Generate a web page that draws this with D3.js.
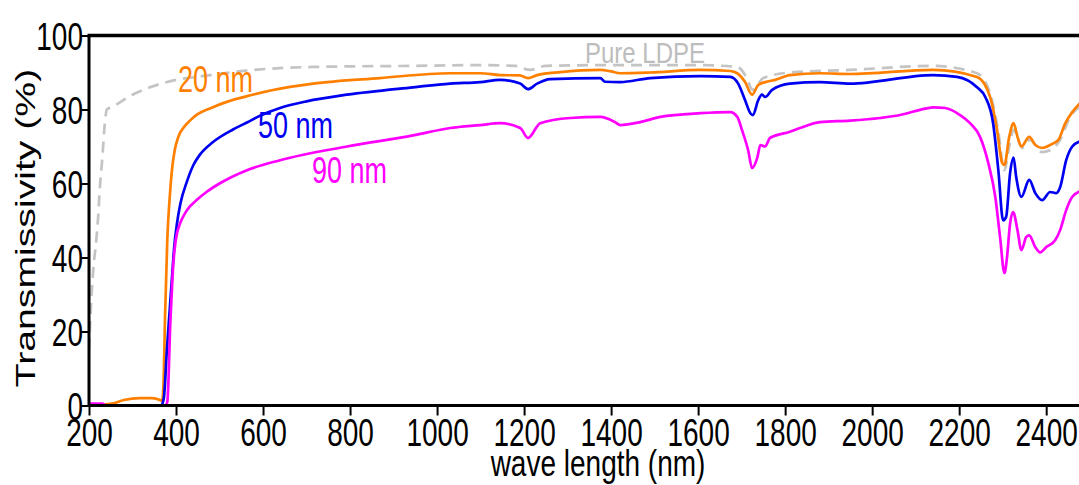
<!DOCTYPE html>
<html>
<head>
<meta charset="utf-8">
<script src="https://cdn.jsdelivr.net/npm/d3@7"></script>
<style>
  body { margin: 0; background: #fff; }
  text { font-family: "Liberation Sans", Arial, sans-serif; }
</style>
</head>
<body>
<div id="graphLine"></div>
<script>
// tick labels
var xTicks = [200, 400, 600, 800, 1000, 1200, 1400, 1600, 1800, 2000, 2200, 2400];
var yTicks = [0, 20, 40, 60, 80, 100];

// Pure LDPE (dashed)
var wlPure = [200, 205, 210, 217, 221, 225, 230, 237, 241, 255, 300, 340, 400, 460, 560, 715, 945, 1100, 1180, 1214, 1250, 1400, 1600, 1690, 1712, 1725, 1738, 1750, 1812, 1950, 2140, 2241, 2271, 2290, 2304, 2315, 2325, 2345, 2363, 2390, 2409, 2432, 2455, 2480];
var tPure = [15, 28, 37, 45, 51, 59, 66, 77, 80, 80.8, 84, 86, 88, 89, 90.5, 91.5, 91.8, 92, 91.8, 90.7, 91.8, 92, 92, 91.5, 88.5, 85.3, 87, 88.5, 90, 90.7, 91.8, 89.8, 84.4, 74, 63.6, 70, 74.5, 69.6, 71.8, 68.5, 69, 71.8, 78, 81];

// 20 nm
var wl20 = [200, 253, 280, 317, 345, 363, 368, 371, 375, 380, 386, 391, 397, 405, 420, 432, 448, 478, 520, 563, 620, 715, 869, 1030, 1099, 1145, 1190, 1209, 1230, 1283, 1375, 1400, 1421, 1490, 1605, 1674, 1690, 1708, 1724, 1738, 1754, 1777, 1811, 1880, 1949, 2140, 2241, 2271, 2287, 2299, 2304, 2315, 2325, 2334, 2343, 2361, 2375, 2391, 2409, 2428, 2444, 2460, 2480];
var t20 = [0, 0.5, 1.5, 2, 2, 1.5, 1.2, 5, 25, 45, 57, 64, 69, 72.5, 75.5, 77, 78.6, 80.3, 82.2, 83.6, 85.2, 87, 88.5, 89.8, 89.8, 89.3, 89.2, 88.5, 89.3, 90.1, 90.7, 90.3, 89.8, 90, 90.7, 90.4, 89.8, 87.4, 84, 86.6, 87.4, 88, 89.3, 89.8, 89.6, 90.7, 88.8, 83.4, 74.5, 65.5, 65, 72.6, 76.3, 72.6, 70, 72.6, 70.4, 69.6, 70.4, 71.8, 76.3, 79.3, 82];

// 50 nm
var wl50 = [200, 366, 372, 379, 385, 391, 396, 402, 410, 425, 440, 455, 485, 531, 563, 593, 639, 700, 793, 945, 1030, 1099, 1145, 1191, 1209, 1230, 1260, 1375, 1386, 1421, 1490, 1605, 1674, 1692, 1708, 1720, 1726, 1738, 1747, 1754, 1770, 1811, 1880, 1949, 2140, 2195, 2241, 2260, 2278, 2290, 2301, 2308, 2317, 2325, 2331, 2343, 2361, 2375, 2391, 2409, 2423, 2432, 2446, 2460, 2480];
var t50 = [0, 0, 2, 15, 25, 35, 43, 49, 54.5, 60.5, 65, 67.8, 71.2, 74.6, 76.5, 78.3, 80.4, 82.2, 84, 86, 87, 87.4, 88, 87, 85.5, 87, 88.2, 88.5, 87.5, 87.4, 88.5, 89, 88.8, 87, 82.5, 79, 78.5, 82.5, 84, 83.4, 85.3, 87, 87.4, 87, 89.3, 88.8, 86, 83.4, 76.3, 63.6, 50, 51, 62.8, 67, 61.8, 56.4, 61, 57.4, 55.5, 57.7, 57.4, 59, 66.3, 70, 71.5];

// 90 nm
var wl90 = [200, 230, 240, 376, 380, 383, 386, 390, 393, 397, 402, 408, 414, 422, 432, 448, 470, 500, 563, 639, 793, 945, 1030, 1099, 1145, 1191, 1209, 1237, 1306, 1375, 1409, 1421, 1467, 1513, 1605, 1674, 1690, 1701, 1715, 1724, 1736, 1743, 1754, 1765, 1811, 1834, 1880, 1949, 2018, 2064, 2110, 2140, 2168, 2202, 2225, 2248, 2267, 2283, 2294, 2304, 2310, 2317, 2324, 2334, 2343, 2354, 2361, 2375, 2386, 2400, 2421, 2432, 2446, 2460, 2480];
var t90 = [0.5, 0.5, 0, 0, 1, 8, 19.6, 30, 37, 42.5, 46.4, 48.8, 50.5, 52.2, 53.8, 55.6, 57.7, 60, 63.6, 66.3, 70, 73, 75, 75.8, 76.3, 75, 72.3, 76.3, 77.7, 78, 76.6, 75.8, 76.6, 78, 79, 79.3, 78, 74.4, 69, 64.2, 67, 70.4, 70, 72.3, 74, 75, 76.6, 77, 77.7, 78.5, 79.9, 80.6, 80.4, 78.5, 76.3, 72.6, 65.5, 56.4, 45.5, 35.8, 40.1, 49.2, 52.3, 47.4, 42, 45.5, 46, 42.8, 41.4, 42.8, 44.7, 47.4, 52.8, 56.4, 58];

var series = [
  {name: "Pure LDPE", wl: wlPure, t: tPure, color: "#c4c4c4", dash: "11,7"},
  {name: "20 nm", wl: wl20, t: t20, color: "#ff8000", dash: null},
  {name: "50 nm", wl: wl50, t: t50, color: "#0000f0", dash: null},
  {name: "90 nm", wl: wl90, t: t90, color: "#ff00ff", dash: null}
];

// ラベル位置
var labels = [
  {text: "Pure LDPE", x: 585, y: 63, color: "#bdbdbd", size: 24, sy: 1.25},
  {text: "20 nm", x: 178, y: 92, color: "#ff8000", size: 27, sy: 1.4},
  {text: "50 nm", x: 258, y: 138, color: "#0000f0", size: 27, sy: 1.4},
  {text: "90 nm", x: 312, y: 183, color: "#ff00ff", size: 27, sy: 1.4}
];

var W = 1079, H = 485;
var margin = {top: 36, bottom: 79, left: 89, right: 0};

var svg = d3.select("#graphLine")
  .append("svg")
  .attr("width", W)
  .attr("height", H);

var x = d3.scaleLinear().domain([200, 2480]).range([margin.left, 1081]);
var y = d3.scaleLinear().domain([0, 100]).range([H - margin.bottom - 0.5, margin.top - 0.5]);

svg.append("clipPath").attr("id", "plotClip")
  .append("rect")
  .attr("x", margin.left).attr("y", margin.top)
  .attr("width", W - margin.left).attr("height", H - margin.bottom - margin.top);

// 線
var line = d3.line()
  .x(function(d) { return x(d[0]); })
  .y(function(d) { return y(d[1]); })
  .curve(d3.curveMonotoneX);

var plot = svg.append("g").attr("clip-path", "url(#plotClip)");
series.forEach(function(s) {
  var pts = s.wl.map(function(w, i) { return [w, s.t[i]]; });
  plot.append("path")
    .attr("d", line(pts))
    .attr("fill", "none")
    .attr("stroke", s.color)
    .attr("stroke-width", 2.7)
    .attr("stroke-linejoin", "round")
    .attr("stroke-dasharray", s.dash);
});

// 軸
var xAxis = svg.append("g")
  .attr("transform", "translate(0," + y(0) + ")")
  .call(d3.axisBottom(x).tickValues(xTicks).tickSize(10).tickFormat(d3.format("d")));
var yAxis = svg.append("g")
  .attr("transform", "translate(" + margin.left + ",0)")
  .call(d3.axisLeft(y).tickValues(yTicks).tickSize(8).tickFormat(d3.format("d")));

[xAxis, yAxis].forEach(function(g) {
  g.select(".domain").remove();
  g.selectAll(".tick line").attr("stroke", "#000").attr("stroke-width", 2);
  g.selectAll(".tick text")
    .attr("fill", "#000")
    .style("font-size", "28px")
    .style("font-family", '"Liberation Sans", Arial, sans-serif')
    .attr("x", null).attr("y", null).attr("dy", null);
});
xAxis.selectAll(".tick text")
  .attr("text-anchor", "middle")
  .attr("transform", "translate(0,40) scale(1,1.4)");
yAxis.selectAll(".tick text")
  .attr("text-anchor", "end")
  .attr("transform", "translate(-6,14) scale(1,1.4)");

// frame lines
svg.append("line")
  .attr("x1", margin.left).attr("x2", W)
  .attr("y1", y(0)).attr("y2", y(0))
  .attr("stroke", "#000").attr("stroke-width", 3);
svg.append("line")
  .attr("x1", margin.left - 1.5).attr("x2", W)
  .attr("y1", y(100)).attr("y2", y(100))
  .attr("stroke", "#000").attr("stroke-width", 3.5);
svg.append("line")
  .attr("x1", margin.left).attr("x2", margin.left)
  .attr("y1", y(100)).attr("y2", y(0) + 1.5)
  .attr("stroke", "#000").attr("stroke-width", 3);

// 軸ラベル
svg.append("text")
  .text("wave length (nm)")
  .attr("text-anchor", "middle")
  .attr("transform", "translate(598,476) scale(1,1.3)")
  .style("font-size", "28px")
  .attr("fill", "#000");
svg.append("text")
  .text("Transmissivity (%)")
  .attr("text-anchor", "middle")
  .attr("transform", "translate(35,228) rotate(-90) scale(1.4,1)")
  .style("font-size", "28px")
  .attr("fill", "#000");

// 系列名
svg.selectAll("text.seriesLabel")
  .data(labels)
  .enter()
  .append("text")
  .attr("class", "seriesLabel")
  .text(function(d) { return d.text; })
  .attr("transform", function(d) { return "translate(" + d.x + "," + d.y + ") scale(1," + d.sy + ")"; })
  .style("font-size", function(d) { return d.size + "px"; })
  .attr("fill", function(d) { return d.color; });
</script>
</body>
</html>
